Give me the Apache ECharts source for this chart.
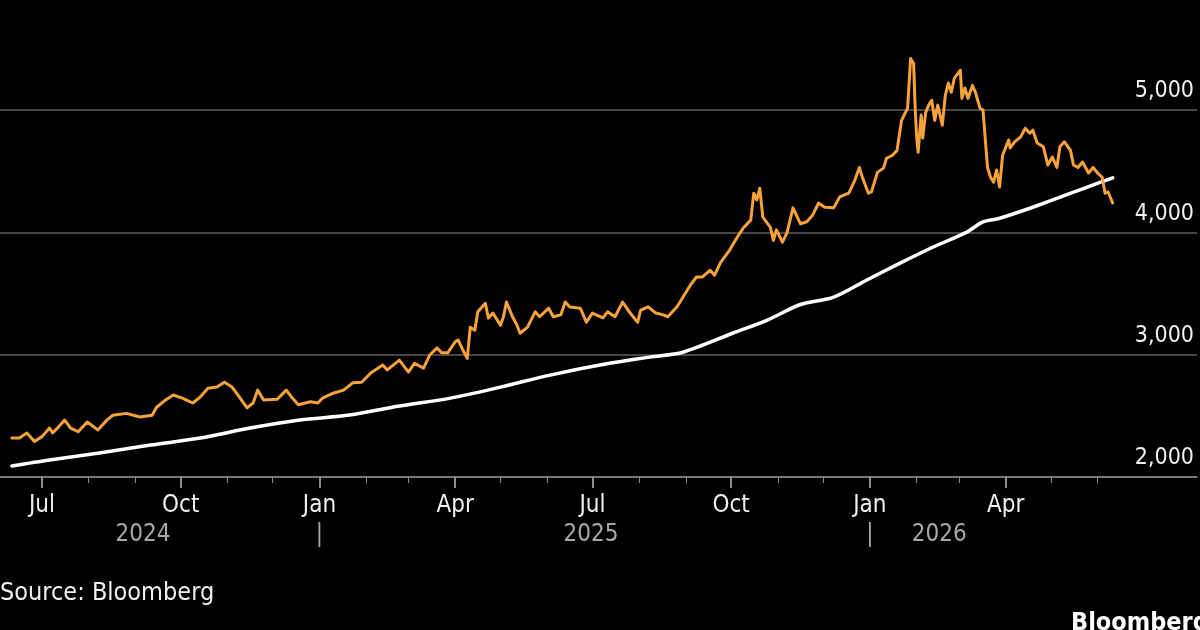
<!DOCTYPE html>
<html><head><meta charset="utf-8">
<script src="https://cdn.jsdelivr.net/npm/echarts@6/dist/echarts.min.js"></script>
<style>html,body{margin:0;background:#000;overflow:hidden}#c{width:1200px;height:630px;}</style>
</head><body><div id="c"></div>
<script>
const FONT = "'DejaVu Sans Condensed','Liberation Sans Narrow','DejaVu Sans',sans-serif";

// Gold spot price (orange)
const priceDates = [
 '2024-06-11','2024-06-16','2024-06-21','2024-06-26','2024-07-01','2024-07-06','2024-07-08','2024-07-12','2024-07-16','2024-07-20',
 '2024-07-25','2024-07-31','2024-08-07','2024-08-13','2024-08-17','2024-08-26','2024-09-04','2024-09-12','2024-09-15','2024-09-21',
 '2024-09-26','2024-10-02','2024-10-09','2024-10-14','2024-10-19','2024-10-25','2024-10-30','2024-11-04','2024-11-07','2024-11-14',
 '2024-11-18','2024-11-21','2024-11-25','2024-12-04','2024-12-10','2024-12-14','2024-12-18','2024-12-26','2024-12-31','2025-01-03',
 '2025-01-10','2025-01-17','2025-01-23','2025-01-29','2025-02-04','2025-02-12','2025-02-15','2025-02-23','2025-03-01','2025-03-05',
 '2025-03-11','2025-03-15','2025-03-20','2025-03-23','2025-03-27','2025-04-01','2025-04-03','2025-04-06','2025-04-09','2025-04-11',
 '2025-04-14','2025-04-16','2025-04-21','2025-04-23','2025-04-26','2025-05-01','2025-05-03','2025-05-05','2025-05-09','2025-05-12',
 '2025-05-14','2025-05-19','2025-05-24','2025-05-27','2025-06-02','2025-06-05','2025-06-10','2025-06-13','2025-06-16','2025-06-23',
 '2025-06-27','2025-07-01','2025-07-08','2025-07-11','2025-07-16','2025-07-21','2025-07-26','2025-07-31','2025-08-02','2025-08-07',
 '2025-08-12','2025-08-17','2025-08-20','2025-08-26','2025-08-30','2025-09-04','2025-09-08','2025-09-12','2025-09-17','2025-09-20',
 '2025-09-24','2025-09-30','2025-10-05','2025-10-09','2025-10-14','2025-10-16','2025-10-18','2025-10-20','2025-10-22','2025-10-27',
 '2025-10-29','2025-10-31','2025-11-04','2025-11-07','2025-11-11','2025-11-16','2025-11-20','2025-11-24','2025-11-28','2025-12-02',
 '2025-12-08','2025-12-12','2025-12-18','2025-12-22','2025-12-25','2025-12-27','2025-12-31','2026-01-02','2026-01-06','2026-01-10',
 '2026-01-12','2026-01-16','2026-01-19','2026-01-22','2026-01-26','2026-01-28','2026-01-30','2026-01-31','2026-02-01','2026-02-02',
 '2026-02-04','2026-02-05','2026-02-07','2026-02-09','2026-02-11','2026-02-13','2026-02-15','2026-02-18','2026-02-20','2026-02-22',
 '2026-02-24','2026-02-26','2026-03-02','2026-03-03','2026-03-05','2026-03-07','2026-03-10','2026-03-12','2026-03-15','2026-03-17',
 '2026-03-20','2026-03-22','2026-03-24','2026-03-26','2026-03-28','2026-03-30','2026-04-03','2026-04-04','2026-04-07','2026-04-11',
 '2026-04-14','2026-04-17','2026-04-19','2026-04-22','2026-04-26','2026-04-29','2026-05-02','2026-05-05','2026-05-07','2026-05-10',
 '2026-05-14','2026-05-16','2026-05-19','2026-05-22','2026-05-26','2026-05-29','2026-06-01','2026-06-04','2026-06-06','2026-06-08',
 '2026-06-11'
];
const priceValues = [
 2318,2318,2360,2290,2330,2400,2360,2410,2465,2400,
 2370,2450,2385,2465,2505,2520,2490,2505,2570,2630,
 2670,2645,2605,2655,2725,2735,2775,2735,2685,2565,
 2605,2710,2630,2635,2710,2645,2590,2615,2605,2645,
 2685,2710,2770,2775,2850,2915,2875,2955,2858,2930,
 2890,2995,3055,3015,3015,3105,3120,3040,2970,3225,
 3200,3350,3420,3300,3340,3240,3310,3430,3310,3240,
 3175,3225,3350,3310,3380,3310,3325,3430,3390,3380,
 3265,3340,3300,3350,3310,3430,3340,3265,3365,3390,
 3340,3325,3310,3390,3470,3570,3635,3635,3690,3650,
 3755,3855,3960,4035,4100,4320,4265,4360,4125,4040,
 3935,4020,3920,3995,4200,4070,4085,4140,4240,4205,
 4200,4290,4320,4425,4530,4450,4320,4330,4490,4525,
 4605,4630,4670,4915,5015,5420,5380,5025,4780,4655,
 4960,4770,4980,5040,5080,4915,5040,4875,5120,5220,
 5145,5260,5325,5095,5180,5095,5200,5145,5015,5000,
 4530,4450,4410,4510,4370,4630,4755,4690,4740,4780,
 4850,4810,4835,4730,4700,4550,4615,4530,4700,4740,
 4670,4550,4530,4575,4485,4530,4485,4450,4320,4330,
 4240
];

// 200-day moving average (white)
const maDates = ['2024-06-11','2024-07-06','2024-08-08','2024-09-11','2024-10-14','2024-11-16','2024-12-19','2025-01-21','2025-02-23',
 '2025-03-29','2025-05-01','2025-06-03','2025-07-06','2025-08-08','2025-08-30','2025-10-02','2025-10-25','2025-11-16','2025-12-08',
 '2025-12-30','2026-01-21','2026-02-12','2026-03-06','2026-03-17','2026-03-28','2026-04-19','2026-05-12','2026-06-03','2026-06-11'];
const maValues = [2090,2139,2196,2261,2318,2400,2466,2506,2580,
 2645,2735,2833,2915,2980,3020,3175,3283,3410,3470,
 3610,3748,3880,4000,4085,4115,4205,4310,4410,4445];

// Axis labels
const quarterStarts = ['2024-07-01','2024-10-01','2025-01-01','2025-04-01','2025-07-01','2025-10-01','2026-01-01','2026-04-01'];
const quarterLabels = ['Jul','Oct','Jan','Apr','Jul','Oct','Jan','Apr'];
const monthStarts = ['2024-07-01','2024-08-01','2024-09-01','2024-10-01','2024-11-01','2024-12-01','2025-01-01','2025-02-01','2025-03-01',
 '2025-04-01','2025-05-01','2025-06-01','2025-07-01','2025-08-01','2025-09-01','2025-10-01','2025-11-01','2025-12-01','2026-01-01',
 '2026-02-01','2026-03-01','2026-04-01','2026-05-01','2026-06-01'];
const yearLabelDates = ['2024-09-06','2025-01-01','2025-06-30','2026-01-01','2026-02-16'];
const yearLabelTexts = ['2024','|','2025','|','2026'];
const yTicks = [2000, 3000, 4000, 5000];

const ts = s => { const [y,m,d] = s.split('-').map(Number); return Date.UTC(y, m-1, d); };
const DAY = 86400000;
const xMin = ts('2024-07-01') - 42/1.508*DAY;
const xMax = ts('2024-07-01') + (1197-42)/1.508*DAY;

const qTs = quarterStarts.map(ts), mTs = monthStarts.map(ts), yTs = yearLabelDates.map(ts);
const lookup = (arr, labels) => v => { const i = arr.findIndex(t => Math.abs(t - v) < DAY/2); return i >= 0 ? labels[i] : ''; };

const baseX = {type:'value', min:xMin, max:xMax, position:'bottom', scale:true, splitLine:{show:false}};
const chart = echarts.init(document.getElementById('c'), null, {renderer:'canvas'});
chart.setOption({
  backgroundColor: '#000',
  animation: false,
  grid: {left: 0, right: 3, top: 110, bottom: 153, containLabel: false},
  xAxis: [
    Object.assign({}, baseX, {
     axisLine:{show:true, onZero:false, lineStyle:{color:'#8a8a8a', width:1.5}},
     axisTick:{show:true, customValues:qTs, length:11, lineStyle:{color:'#bbb', width:1.5}},
     axisLabel:{show:true, customValues:qTs, formatter:lookup(qTs, quarterLabels), color:'#f0f0f0',
       fontFamily:FONT, fontSize:24, margin:17, hideOverlap:false, showMinLabel:true, showMaxLabel:true}}),
    Object.assign({}, baseX, {
     axisLine:{show:false, onZero:false},
     axisTick:{show:true, customValues:mTs, length:6, lineStyle:{color:'#8a8a8a', width:1}},
     axisLabel:{show:false}}),
    Object.assign({}, baseX, {
     axisLine:{show:false, onZero:false}, axisTick:{show:false},
     axisLabel:{show:true, customValues:yTs, formatter:lookup(yTs, yearLabelTexts), color:'#a8a8a8',
       fontFamily:FONT, fontSize:24, margin:46, hideOverlap:false}})
  ],
  yAxis: {
    type:'value', position:'right', min:2000, max:5000, interval:1000,
    axisLine:{show:false}, axisTick:{show:false},
    splitLine:{show:true, lineStyle:{color:'#5e5e5e', width:1.5}},
    axisLabel:{inside:true, margin:3, color:'#f0f0f0', fontFamily:FONT, fontSize:23,
      verticalAlign:'bottom', padding:[0,0,7,0],
      formatter: v => yTicks.includes(v) ? v.toLocaleString('en-US') : ''}
  },
  series: [
    {type:'line', name:'200-day MA', data: maDates.map((d,i)=>[ts(d), maValues[i]]), xAxisIndex:0,
     showSymbol:false, clip:false, smooth:0.3, lineStyle:{color:'#ffffff', width:3.5, cap:'round'}, z:2},
    {type:'line', name:'Gold', data: priceDates.map((d,i)=>[ts(d), priceValues[i]]), xAxisIndex:0,
     showSymbol:false, clip:false, lineStyle:{color:'#f7a23a', width:3, join:'round', cap:'round'}, z:3}
  ],
  graphic: [
    {type:'text', left:0, top:581, style:{text:'Source: Bloomberg', fill:'#f0f0f0', font:'25px ' + FONT}},
    {type:'text', left:1071, top:611, style:{text:'Bloomberg', fill:'#ffffff', font:'bold 25px ' + FONT}}
  ]
});
</script></body></html>
